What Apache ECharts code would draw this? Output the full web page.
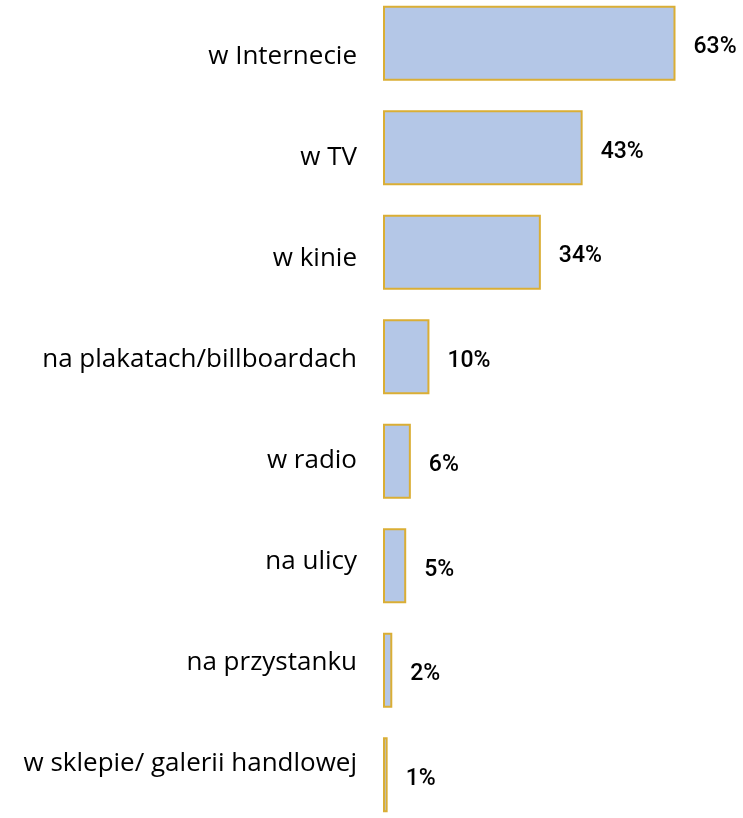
<!DOCTYPE html>
<html>
<head>
<meta charset="utf-8">
<script src="https://cdn.jsdelivr.net/npm/echarts@6/dist/echarts.min.js"></script>
<style>
  html, body { margin: 0; padding: 0; background: #fff; overflow: hidden; }
  /* wykres trochę wyższy niż okno, żeby pasmo kategorii wyszło jak w oryginale */
  #chart { width: 743px; height: 836px; margin-top: -9px; }
</style>
</head>
<body>
<div id="chart"></div>
<script>
// dane z wykresu
const categories = [
  'w Internecie',
  'w TV',
  'w kinie',
  'na plakatach/billboardach',
  'w radio',
  'na ulicy',
  'na przystanku',
  'w sklepie/ galerii handlowej'
];
const values = [63, 43, 34, 10, 6, 5, 2, 1];

const chart = echarts.init(document.getElementById('chart'));

// etykiety kategorii są w oryginale rozstawione trochę gęściej niż słupki
const labelShift = (i) => Math.round(13 - 3.5 * i);

const catFont = { fontFamily: 'Open Sans', fontSize: 26, color: '#000' };

const option = {
  animation: false,
  grid: { left: 383, right: 35, top: 0, bottom: 0, containLabel: false },
  xAxis: {
    type: 'value',
    min: 0,
    max: 70,
    show: false
  },
  yAxis: {
    type: 'category',
    data: categories,
    inverse: true,
    axisLine: { show: false },
    axisTick: { show: false },
    axisLabel: {
      margin: 26,
      formatter: (v, i) => {
        const s = labelShift(i);
        return s >= 0 ? '{d' + s + '|' + v + '}' : '{u' + (-s) + '|' + v + '}';
      },
      rich: (() => {
        const r = {};
        for (let k = 0; k <= 20; k++) {
          r['d' + k] = Object.assign({ padding: [2 * k, 0, 0, 0] }, catFont);
          r['u' + k] = Object.assign({ padding: [0, 0, 2 * k, 0] }, catFont);
        }
        return r;
      })()
    }
  },
  series: [{
    type: 'bar',
    data: values,
    barWidth: 75,
    itemStyle: {
      color: '#B4C7E7',
      borderColor: '#DAAE35',
      borderWidth: 2
    },
    label: {
      show: true,
      position: 'right',
      distance: 18,
      offset: [0, 4],
      formatter: '{c}%',
      fontFamily: 'Roboto',
      fontWeight: 500,
      fontSize: 23,
      color: '#000'
    }
  }]
};

chart.setOption(option);
</script>
</body>
</html>
